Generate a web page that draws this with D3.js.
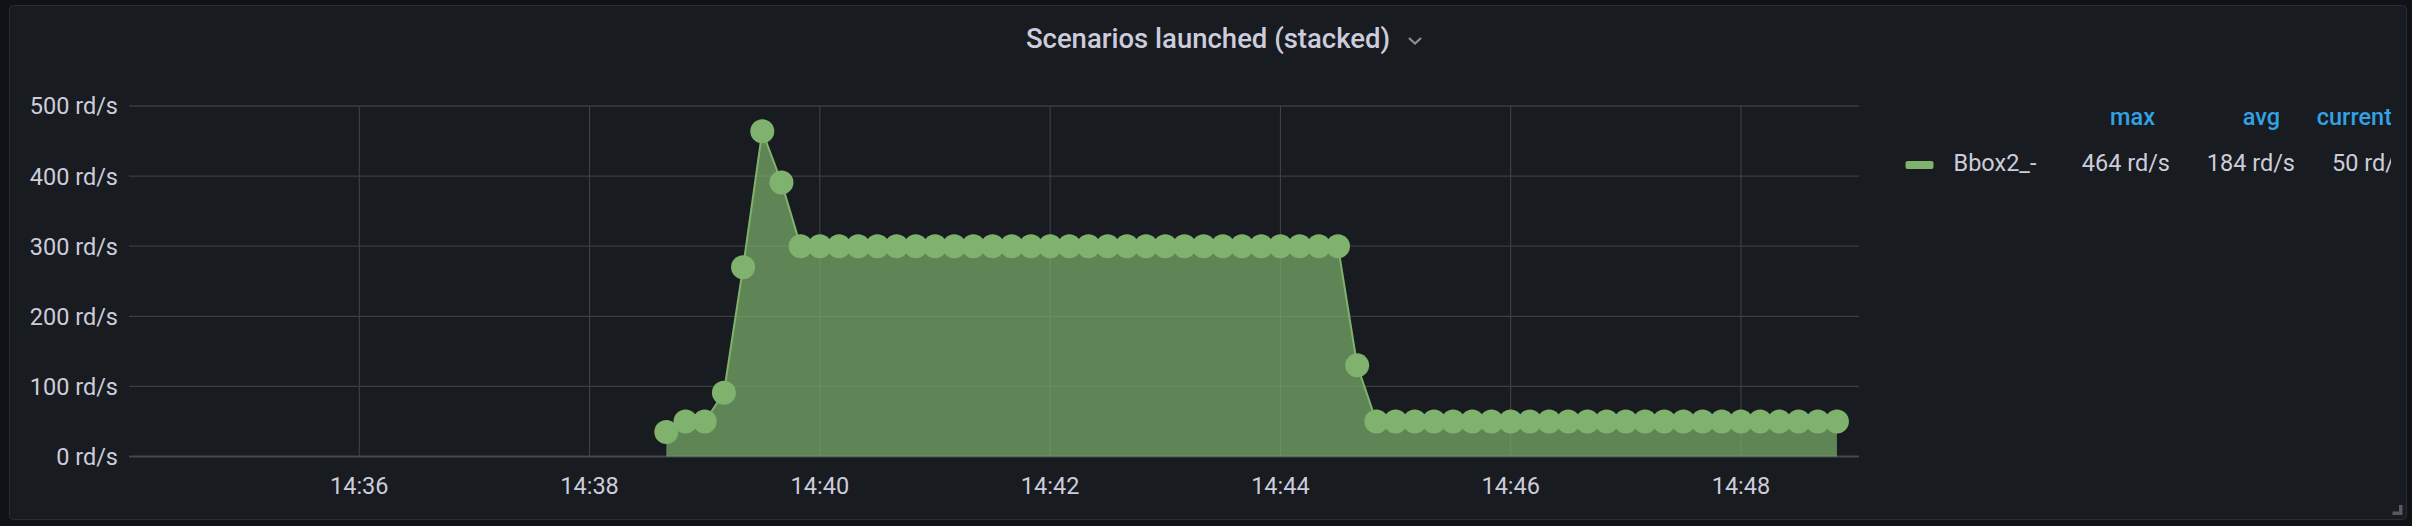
<!DOCTYPE html>
<html>
<head>
<meta charset="utf-8">
<script src="https://cdn.jsdelivr.net/npm/d3@7"></script>
<style>
  html, body { margin: 0; padding: 0; background: #111217; }
  svg { display: block; }
  text { font-family: Roboto, "Noto Sans", sans-serif; }
</style>
</head>
<body>
<svg id="chart" width="2412" height="526"></svg>
<script>
// ---- data ----
const title = "Scenarios launched (stacked)";
const seriesName = "Bbox2_-";
const times = [
  "14:38:40","14:38:50",
  "14:39:00","14:39:10","14:39:20","14:39:30","14:39:40","14:39:50",
  "14:40:00","14:40:10","14:40:20","14:40:30","14:40:40","14:40:50",
  "14:41:00","14:41:10","14:41:20","14:41:30","14:41:40","14:41:50",
  "14:42:00","14:42:10","14:42:20","14:42:30","14:42:40","14:42:50",
  "14:43:00","14:43:10","14:43:20","14:43:30","14:43:40","14:43:50",
  "14:44:00","14:44:10","14:44:20","14:44:30","14:44:40","14:44:50",
  "14:45:00","14:45:10","14:45:20","14:45:30","14:45:40","14:45:50",
  "14:46:00","14:46:10","14:46:20","14:46:30","14:46:40","14:46:50",
  "14:47:00","14:47:10","14:47:20","14:47:30","14:47:40","14:47:50",
  "14:48:00","14:48:10","14:48:20","14:48:30","14:48:40","14:48:50"
];
const values = [
  35, 50,
  50, 91, 270, 464, 391, 300,
  300, 300, 300, 300, 300, 300,
  300, 300, 300, 300, 300, 300,
  300, 300, 300, 300, 300, 300,
  300, 300, 300, 300, 300, 300,
  300, 300, 300, 300, 130, 50,
  50, 50, 50, 50, 50, 50,
  50, 50, 50, 50, 50, 50,
  50, 50, 50, 50, 50, 50,
  50, 50, 50, 50, 50, 50
];
const timeDomain = ["14:34:00", "14:49:01.5"];
const xTickLabels = ["14:36", "14:38", "14:40", "14:42", "14:44", "14:46", "14:48"];
const yTicks = [0, 100, 200, 300, 400, 500];
const yMax = 500;
const unit = "rd/s";
const legendHeaders = ["max", "avg", "current"];
const legendValues = ["464 rd/s", "184 rd/s", "50 rd/s"];

// ---- setup ----
const parseT = s => {
  const [h, m, sec] = s.split(":").map(Number);
  return new Date(2024, 0, 1, h, m, 0, (sec || 0) * 1000);
};
const data = times.map((t, i) => ({ t: parseT(t), v: values[i] }));

const svg = d3.select("#chart");
const W = 2412, H = 526;
const plot = { left: 129, right: 1859, top: 106, bottom: 456.5 };

svg.append("rect").attr("width", W).attr("height", H).attr("fill", "#111217");
svg.append("rect")
  .attr("x", 9.5).attr("y", 5.5).attr("width", 2397).attr("height", 514)
  .attr("rx", 4).attr("fill", "#181b1f").attr("stroke", "#2a2d33").attr("stroke-width", 1);

// title
svg.append("text")
  .attr("x", 1208).attr("y", 48)
  .attr("text-anchor", "middle")
  .attr("font-size", 27.5).attr("font-weight", 500)
  .attr("fill", "#ccccdc")
  .text(title);
svg.append("path")
  .attr("d", "M1409,38 L1415,43.5 L1421,38")
  .attr("fill", "none").attr("stroke", "#8e8e9a").attr("stroke-width", 2.2);

const x = d3.scaleTime()
  .domain(timeDomain.map(parseT))
  .range([plot.left, plot.right]);
const y = d3.scaleLinear().domain([0, yMax]).range([plot.bottom, plot.top]);

const gridColor = "#3b3d42";

// vertical grid + x labels
const xTicks = xTickLabels.map(parseT);
const gx = svg.append("g");
gx.selectAll("line").data(xTicks).join("line")
  .attr("x1", d => x(d)).attr("x2", d => x(d))
  .attr("y1", plot.top).attr("y2", plot.bottom)
  .attr("stroke", "#43454a").attr("stroke-width", 1);
gx.selectAll("text").data(xTicks).join("text")
  .attr("x", d => x(d)).attr("y", 494)
  .attr("text-anchor", "middle")
  .attr("font-size", 23.5).attr("fill", "#ccccdc")
  .text(d3.timeFormat("%H:%M"));

// horizontal grid + y labels
const gy = svg.append("g");
gy.selectAll("line").data(yTicks).join("line")
  .attr("x1", plot.left).attr("x2", plot.right)
  .attr("y1", d => y(d)).attr("y2", d => y(d))
  .attr("stroke", d => d === 0 ? "#45474c" : gridColor)
  .attr("stroke-width", d => d === 0 ? 2 : 1.3);
gy.selectAll("text").data(yTicks).join("text")
  .attr("x", 118).attr("y", d => y(d))
  .attr("dy", "0.36em")
  .attr("text-anchor", "end")
  .attr("font-size", 23.5).attr("fill", "#ccccdc")
  .text(d => `${d} ${unit}`);

// area + line + points
const green = "#7eb26d";
const area = d3.area().x(d => x(d.t)).y0(y(0)).y1(d => y(d.v));
const line = d3.line().x(d => x(d.t)).y(d => y(d.v));
svg.append("path").datum(data).attr("d", area)
  .attr("fill", green).attr("fill-opacity", 0.7);
svg.append("path").datum(data).attr("d", line)
  .attr("fill", "none").attr("stroke", green).attr("stroke-width", 2);
svg.append("g").selectAll("circle").data(data).join("circle")
  .attr("cx", d => x(d.t)).attr("cy", d => y(d.v)).attr("r", 12)
  .attr("fill", green);

// legend
svg.append("clipPath").attr("id", "legclip")
  .append("rect").attr("x", 1880).attr("y", 80).attr("width", 511).attr("height", 120);
const leg = svg.append("g").attr("clip-path", "url(#legclip)");
const colRight = [2170, 2295, 2407];
leg.selectAll("text.h").data(legendHeaders).join("text").attr("class", "h")
  .attr("x", (d, i) => colRight[i] - 15).attr("y", 125)
  .attr("text-anchor", "end")
  .attr("font-size", 23.5).attr("font-weight", 500).attr("fill", "#33a2e5")
  .text(d => d);
leg.append("rect")
  .attr("x", 1905.5).attr("y", 161).attr("width", 28).attr("height", 8)
  .attr("rx", 2).attr("fill", green);
leg.append("text")
  .attr("x", 1953.5).attr("y", 171)
  .attr("font-size", 23.5).attr("fill", "#ccccdc")
  .text(seriesName);
leg.selectAll("text.v").data(legendValues).join("text").attr("class", "v")
  .attr("x", (d, i) => colRight[i]).attr("y", 171)
  .attr("text-anchor", "end")
  .attr("font-size", 23.5).attr("fill", "#ccccdc")
  .text(d => d);

// resize handle
svg.append("path")
  .attr("d", "M2399,505 H2402.5 V515 H2392.5 V511.5 H2399 Z")
  .attr("fill", "#58595e");
</script>
</body>
</html>
